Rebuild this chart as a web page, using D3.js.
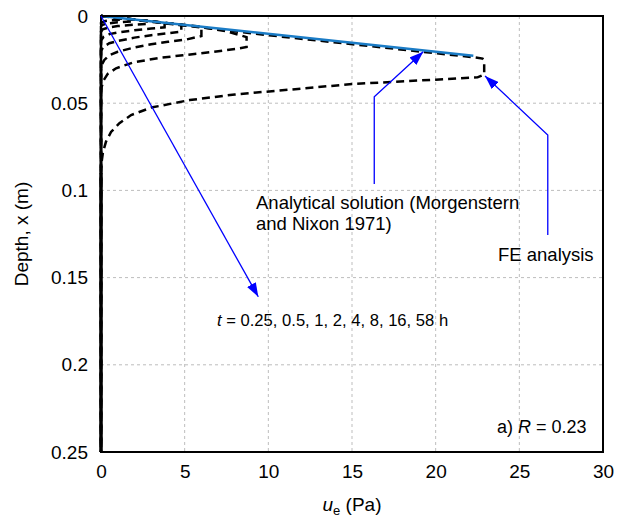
<!DOCTYPE html>
<html>
<head>
<meta charset="utf-8">
<script src="https://cdn.jsdelivr.net/npm/d3@7"></script>
<style>
  body { margin: 0; background: #fff; }
  svg { display: block; font-family: "Liberation Sans", Arial, sans-serif; }
</style>
</head>
<body>
<svg id="chart" width="618" height="525"></svg>
<script>
// ---- Data (ue in Pa, depth x in m) ----
const xTicks = [0, 5, 10, 15, 20, 25, 30];
const yTicks = [0, 0.05, 0.1, 0.15, 0.2, 0.25];
const yTickLabels = ["0", "0.05", "0.1", "0.15", "0.2", "0.25"];
const times = ["0.25", "0.5", "1", "2", "4", "8", "16", "58"];

// FE analysis profiles [ue, depth]
const fe_025h = [[0,0],[1.3,0.0013],[1.3,0.002],[0.6,0.0024],[0.2,0.003],[0,0.004],[0,0.25]];
const fe_05h  = [[0,0],[2.0,0.002],[2.0,0.003],[1.0,0.0036],[0.4,0.0043],[0.1,0.005],[0,0.006],[0,0.25]];
const fe_1h   = [[0,0],[2.8,0.0029],[2.8,0.0045],[2.0,0.005],[1.0,0.0058],[0.5,0.0065],[0.1,0.0077],[0,0.009],[0,0.25]];
const fe_2h   = [[0,0],[3.8,0.0039],[3.8,0.0065],[3.0,0.0072],[2.0,0.0082],[1.0,0.0095],[0.5,0.0104],[0.15,0.012],[0,0.014],[0,0.25]];
const fe_4h   = [[0,0],[4.8,0.0049],[4.8,0.009],[4.0,0.0099],[3.0,0.011],[2.0,0.0124],[1.0,0.0143],[0.5,0.0156],[0.15,0.0176],[0,0.02],[0,0.25]];
const fe_8h   = [[0,0],[6.0,0.0062],[6.0,0.0115],[5.1,0.0135],[4.0,0.0148],[3.0,0.0162],[2.0,0.018],[1.0,0.0205],[0.5,0.0225],[0.2,0.0252],[0.05,0.028],[0,0.031],[0,0.25]];
const fe_16h  = [[0,0],[3,0.0031],[6,0.0063],[7.5,0.0088],[8.7,0.0121],[8.7,0.0178],[8.1,0.0188],[6.7,0.0206],[4.9,0.0225],[3.5,0.024],[1.9,0.0267],[0.9,0.03],[0.4,0.0332],[0.15,0.037],[0.03,0.041],[0,0.045],[0,0.25]];
const fe_58h  = [[0,0],[10,0.0110],[22.3,0.0237],[22.8,0.0244],[22.9,0.026],[22.9,0.0335],[22.5,0.0352],[20,0.0365],[15,0.039],[11.3,0.0422],[8,0.0450],[5.3,0.0482],[3.0,0.0525],[1.8,0.0568],[1.1,0.0615],[0.6,0.0665],[0.3,0.072],[0.12,0.078],[0.04,0.0835],[0,0.088],[0,0.25]];
const feCurves = [fe_025h, fe_05h, fe_1h, fe_2h, fe_4h, fe_8h, fe_16h, fe_58h];

// Analytical solution (Morgenstern and Nixon 1971)
const analytical = [[0,0],[22.25,0.0228]];

// Annotation arrows (data coords)
const arrowTimes = [[0,0],[9.40,0.161]];
const arrowAnalytical = [[16.33,0.0963],[16.33,0.0463],[19.26,0.0205]];
const arrowFE = [[26.70,0.1256],[26.70,0.0682],[22.95,0.0344]];

// ---- Layout ----
const svg = d3.select("#chart");
const L = 101, R = 603, T = 16, B = 452;
const x = d3.scaleLinear().domain([0, 30]).range([L, R]);
const y = d3.scaleLinear().domain([0, 0.25]).range([T, B]);

// gridlines
const grid = svg.append("g");
grid.selectAll("line.v").data(xTicks.slice(1, -1)).join("line")
  .attr("x1", d => x(d)).attr("x2", d => x(d)).attr("y1", T).attr("y2", B)
  .attr("stroke", "#bdbdbd").attr("stroke-width", 1).attr("stroke-dasharray", "3,3");
grid.selectAll("line.h").data(yTicks.slice(1, -1)).join("line")
  .attr("x1", L).attr("x2", R).attr("y1", d => y(d)).attr("y2", d => y(d))
  .attr("stroke", "#bdbdbd").attr("stroke-width", 1).attr("stroke-dasharray", "3,3");

// axes (labels only, no tick marks)
const xAxis = d3.axisBottom(x).tickValues(xTicks).tickSize(0).tickPadding(13).tickFormat(d3.format("d"));
const gx = svg.append("g").attr("transform", `translate(0,${B})`).call(xAxis);
gx.select(".domain").remove();
gx.selectAll("text").attr("font-size", 19).attr("fill", "#000").attr("font-family", "Liberation Sans, Arial, sans-serif");

const yAxis = d3.axisLeft(y).tickValues(yTicks).tickSize(0).tickPadding(13).tickFormat((d, i) => yTickLabels[i]);
const gy = svg.append("g").attr("transform", `translate(${L},0)`).call(yAxis);
gy.select(".domain").remove();
gy.selectAll("text").attr("font-size", 19).attr("fill", "#000").attr("font-family", "Liberation Sans, Arial, sans-serif");

// FE curves
const line = d3.line().x(d => x(d[0])).y(d => y(d[1]));
svg.append("g").selectAll("path").data(feCurves).join("path")
  .attr("d", line).attr("fill", "none").attr("stroke", "#000")
  .attr("stroke-width", 2.5).attr("stroke-dasharray", "8,5");

// analytical line
svg.append("path").datum(analytical).attr("d", line).attr("fill", "none")
  .attr("stroke", "#1b7cc6").attr("stroke-width", 2.5);

// frame
svg.append("rect").attr("x", L).attr("y", T).attr("width", R - L).attr("height", B - T)
  .attr("fill", "none").attr("stroke", "#000").attr("stroke-width", 2);
svg.append("line").attr("x1", L).attr("x2", L).attr("y1", y(0.09)).attr("y2", B)
  .attr("stroke", "#000").attr("stroke-width", 3);

// arrows
const defs = svg.append("defs");
defs.append("marker").attr("id", "ah").attr("viewBox", "0 0 14 10")
  .attr("refX", 14).attr("refY", 5).attr("markerWidth", 14).attr("markerHeight", 10)
  .attr("markerUnits", "userSpaceOnUse").attr("orient", "auto")
  .append("path").attr("d", "M0,0 L14,5 L0,10 Z").attr("fill", "#0000ff");
[arrowTimes, arrowAnalytical, arrowFE].forEach(a => {
  svg.append("path").datum(a).attr("d", line).attr("fill", "none")
    .attr("stroke", "#0000ff").attr("stroke-width", 1.3).attr("marker-end", "url(#ah)");
});

// annotations
const ann = svg.append("g").attr("font-size", 18.5).attr("fill", "#000");
ann.append("text").attr("x", 256).attr("y", 209).text("Analytical solution (Morgenstern");
ann.append("text").attr("x", 256).attr("y", 230).text("and Nixon 1971)");
ann.append("text").attr("x", 498).attr("y", 261).text("FE analysis");
const tt = ann.append("text").attr("x", 217).attr("y", 326).attr("font-size", 16.6);
tt.append("tspan").attr("font-style", "italic").text("t");
tt.append("tspan").text(" = " + times.join(", ") + " h");
const rr = ann.append("text").attr("x", 497).attr("y", 433).attr("font-size", 18);
rr.append("tspan").text("a) ");
rr.append("tspan").attr("font-style", "italic").text("R");
rr.append("tspan").text(" = 0.23");

// axis titles
svg.append("text").attr("transform", `translate(28,${(T + B) / 2}) rotate(-90)`)
  .attr("text-anchor", "middle").attr("font-size", 19).text("Depth, x (m)");
const xt = svg.append("text").attr("x", (L + R) / 2).attr("y", 511).attr("text-anchor", "middle").attr("font-size", 19);
xt.append("tspan").attr("font-style", "italic").text("u");
xt.append("tspan").attr("font-size", 13).attr("dy", 4).text("e");
xt.append("tspan").attr("dy", -4).text(" (Pa)");
</script>
</body>
</html>
